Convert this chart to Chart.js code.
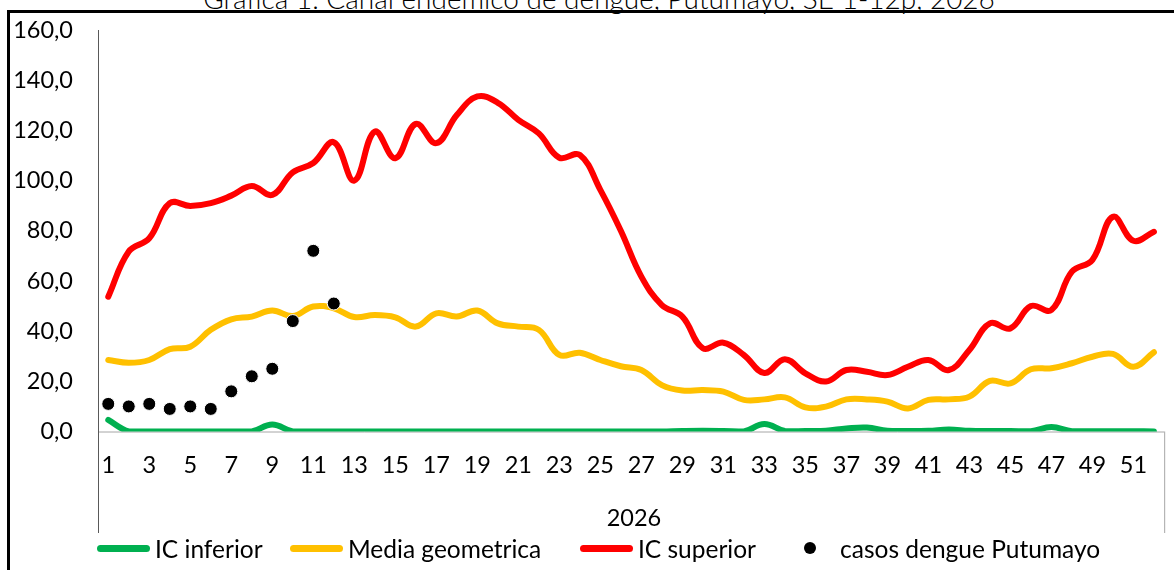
<!DOCTYPE html>
<html>
<head>
<meta charset="utf-8">
<script src="https://cdn.jsdelivr.net/npm/chart.js@4/dist/chart.umd.min.js"></script>
<style>
  html, body { margin: 0; padding: 0; background: #fff; }
  body { width: 1174px; height: 570px; position: relative; overflow: hidden; font-family: Lato, "Open Sans", sans-serif; }
  #frame { position: absolute; left: 7px; top: 10px; width: 1170px; height: 570px; border-left: 3px solid #000; border-top: 3px solid #000; }
  #title { position: absolute; left: 0; width: 1198px; top: -16px; text-align: center; font-size: 28px; line-height: 28px; font-weight: 300; color: #000; white-space: nowrap; }
  #c { position: absolute; left: 0; top: 0; }
  #year { position: absolute; left: 98px; width: 1072px; top: 503px; text-align: center; font-size: 23.5px; line-height: 28px; color: #000; }
  .leg { position: absolute; top: 535px; height: 26px; display: flex; align-items: center; font-size: 24.5px; color: #000; white-space: nowrap; }
  .sw { width: 53px; height: 7px; border-radius: 3.5px; margin-right: 5px; }
  .dot { width: 12px; height: 12px; border-radius: 6px; background: #000; margin-right: 24px; }
</style>
</head>
<body>
<div id="frame"></div>
<div id="title">Grafica 1. Canal endemico de dengue, Putumayo, SE 1-12p, 2026</div>
<canvas id="c" width="1174" height="570"></canvas>
<div id="year">2026</div>
<script>
// semanas epidemiologicas
const semanas = ['1','2','3','4','5','6','7','8','9','10','11','12','13','14','15','16','17','18','19','20','21','22','23','24','25','26',
  '27','28','29','30','31','32','33','34','35','36','37','38','39','40','41','42','43','44','45','46','47','48','49','50','51','52'];

const icInferior = [4.6,0,0,0,0,0,0,0,2.8,0,0,0,0,0,0,0,0,0,0,0,0,0,0,0,0,0,
  0,0,0.2,0.3,0.2,0,3,0.2,0.2,0.3,1.2,1.6,0.3,0.2,0.3,0.8,0.3,0.2,0.2,0.1,1.8,0.1,0.1,0.1,0.1,0];

const mediaGeometrica = [28.5,27.4,28.5,32.8,33.8,40.5,44.7,45.8,48.2,46,49.8,49.1,45.6,46.4,45.5,41.8,47.1,45.8,48.2,43.1,41.8,40.5,30.5,31.4,28.5,26,
  24.5,18.5,16.3,16.5,15.9,12.6,12.8,13.6,9.6,9.9,12.8,12.8,11.9,9.2,12.6,12.8,13.9,20.2,19.2,24.8,25.2,27.2,29.8,30.9,25.8,31.6];

const icSuperior = [53.7,71.7,77,91,89.9,91,94,97.8,94.3,103.3,107,115.3,100,119.5,108.9,122.6,114.9,126.1,133.5,131,124.2,118.8,109.1,110.2,96.3,80,
  61.7,50.4,45.8,33.2,35.4,30.5,23.3,28.8,23.2,19.9,24.5,23.8,22.5,25.8,28.5,24.5,32.5,43.1,41.1,50,48.4,63.7,68.4,85.6,76,79.6];

const casos = [11,10,11,9,10,9,16,22,25,44,72,51];

const yTicks = { min: 0, max: 160, step: 20 };

// lineas de ejes al estilo excel (eje vertical largo y caja de categorias)
const axisBox = {
  id: 'axisBox',
  beforeDatasetsDraw(chart) {
    const ctx = chart.ctx;
    const a = chart.chartArea;
    const y0 = chart.scales.y.getPixelForValue(0);
    ctx.save();
    ctx.lineWidth = 1;
    ctx.strokeStyle = '#a6a6a6';
    ctx.beginPath();
    ctx.moveTo(a.left, y0 + 0.5);
    ctx.lineTo(a.right, y0 + 0.5);
    ctx.moveTo(a.right + 0.5, y0);
    ctx.lineTo(a.right + 0.5, 533);
    ctx.stroke();
    ctx.strokeStyle = '#595959';
    ctx.beginPath();
    ctx.moveTo(a.left + 0.5, a.top);
    ctx.lineTo(a.left + 0.5, 533);
    ctx.stroke();
    ctx.restore();
  }
};

const chart = new Chart(document.getElementById('c'), {
  type: 'line',
  data: {
    labels: semanas,
    datasets: [
      { label: 'IC inferior', data: icInferior, borderColor: '#00b050', backgroundColor: '#00b050', order: 3 },
      { label: 'Media geometrica', data: mediaGeometrica, borderColor: '#ffc000', backgroundColor: '#ffc000', order: 2 },
      { label: 'IC superior', data: icSuperior, borderColor: '#ff0000', backgroundColor: '#ff0000', order: 1 },
      { label: 'casos dengue Putumayo', data: casos, showLine: false, borderColor: '#fff', backgroundColor: '#000',
        pointRadius: 6.5, pointBorderWidth: 1, pointBorderColor: '#fff', pointBackgroundColor: '#000', order: 0 }
    ]
  },
  options: {
    responsive: false,
    devicePixelRatio: 1,
    animation: false,
    layout: { padding: { top: 30, right: 5, left: 0, bottom: 0 } },
    elements: {
      line: { borderWidth: 6, tension: 0.4, borderCapStyle: 'round', borderJoinStyle: 'round' },
      point: { radius: 0, hoverRadius: 0 }
    },
    plugins: { legend: { display: false }, title: { display: false }, tooltip: { enabled: false } },
    scales: {
      x: {
        offset: true,
        grid: { display: false, drawTicks: false },
        border: { display: false },
        afterFit: (s) => { s.height = 138.5; },
        ticks: {
          autoSkip: false, maxRotation: 0, padding: 20, color: '#000',
          font: { family: 'Lato', size: 23.5 },
          callback: function (v, i) { return i % 2 === 0 ? this.getLabelForValue(v) : ''; }
        }
      },
      y: {
        min: yTicks.min, max: yTicks.max,
        grid: { display: false, drawTicks: false },
        border: { display: false },
        afterFit: (s) => { s.width = 98; s.paddingTop = 0; s.paddingBottom = 0; },
        ticks: {
          stepSize: yTicks.step, padding: 25, color: '#000',
          font: { family: 'Lato', size: 23.5 },
          callback: (v) => v.toFixed(1).replace('.', ',')
        }
      }
    }
  },
  plugins: [axisBox]
});

// leyenda en html a partir de los datasets
const legLeft = [97, 290, 580, 804];
chart.data.datasets.forEach((ds, i) => {
  const item = document.createElement('div');
  item.className = 'leg';
  item.style.left = legLeft[i] + 'px';
  const mark = document.createElement('span');
  if (ds.showLine === false) {
    mark.className = 'dot';
  } else {
    mark.className = 'sw';
    mark.style.background = ds.borderColor;
  }
  const txt = document.createElement('span');
  txt.textContent = ds.label;
  item.appendChild(mark);
  item.appendChild(txt);
  document.body.appendChild(item);
});
</script>
</body>
</html>
